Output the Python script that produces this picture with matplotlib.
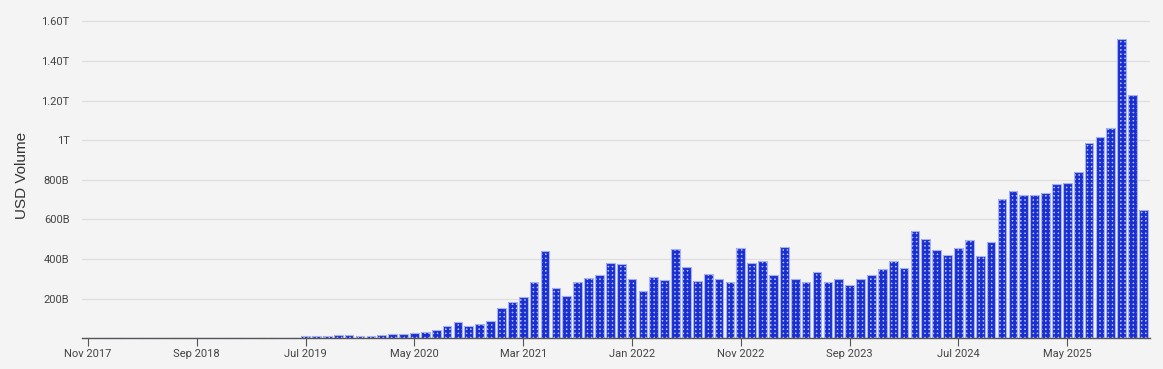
import numpy as np
import matplotlib.pyplot as plt

# monthly USD volume, billions, Nov 2017 .. Dec 2025
months = ['Nov 2017', 'Sep 2018', 'Jul 2019', 'May 2020', 'Mar 2021',
          'Jan 2022', 'Nov 2022', 'Sep 2023', 'Jul 2024', 'May 2025']
volume = [0, 0, 0, 0, 0, 0, 0, 0, 0, 0, 0,
          1, 1, 1, 1, 1, 1, 1, 2, 3,
          12, 10, 10, 15, 15, 10,
          11, 17, 22, 22, 27, 32, 42, 61, 81, 62, 72, 86,
          151, 183, 207, 286, 440, 252, 214, 283, 305, 320, 380, 374,
          301, 239, 308, 293, 450, 362, 289, 323, 300, 286, 455, 380,
          389, 320, 460, 298, 283, 335, 284, 300, 268, 300, 320, 350,
          389, 353, 542, 501, 446, 419, 456, 495, 414, 486, 703, 742,
          725, 725, 735, 778, 784, 838, 988, 1015, 1060, 1510, 1227, 646]
yticks = [200, 400, 600, 800, 1000, 1200, 1400, 1600]
ylabels = ['200B', '400B', '600B', '800B', '1T', '1.20T', '1.40T', '1.60T']

plt.rcParams['font.family'] = ['Roboto', 'DejaVu Sans']
plt.rcParams['hatch.linewidth'] = 1.8

bg = '#f4f4f4'
fig = plt.figure(figsize=(11.63, 3.69), dpi=100, facecolor=bg)
ax = fig.add_axes([0.0705, 0.0832, 0.9183, 0.8854], facecolor=bg)

x = np.arange(len(volume))
# dotted bars: light face with a dense blue grid hatch, then a pale outline
ax.bar(x, volume, width=0.8, color='#b4bfee', edgecolor='#1a2fd2', lw=0, hatch='++++', zorder=3)
ax.bar(x, volume, width=0.8, color='none', edgecolor='#a8b2ea', lw=0.8, zorder=4)

ax.set_xlim(-0.55, 97.6)
ax.set_ylim(0, 1650)
ax.set_yticks(yticks)
ax.set_yticklabels(ylabels)
ax.set_xticks(np.arange(0, 100, 10))
ax.set_xticklabels(months)

ax.grid(axis='y', color='#dedede', lw=0.9, zorder=0)
for s in ['top', 'right', 'left']:
    ax.spines[s].set_visible(False)
ax.spines['bottom'].set_color('#555555')
ax.spines['bottom'].set_linewidth(1)
ax.spines['bottom'].set_zorder(5)

ax.tick_params(axis='y', length=0, pad=9, labelsize=8, labelcolor='#444444')
ax.tick_params(axis='x', length=6, width=0.8, color='#555555', pad=2, labelsize=8, labelcolor='#444444')
ax.set_ylabel('USD Volume', fontsize=11, color='#333333', labelpad=9, family=['Liberation Sans', 'DejaVu Sans'])

plt.savefig('out.png', facecolor=bg)
